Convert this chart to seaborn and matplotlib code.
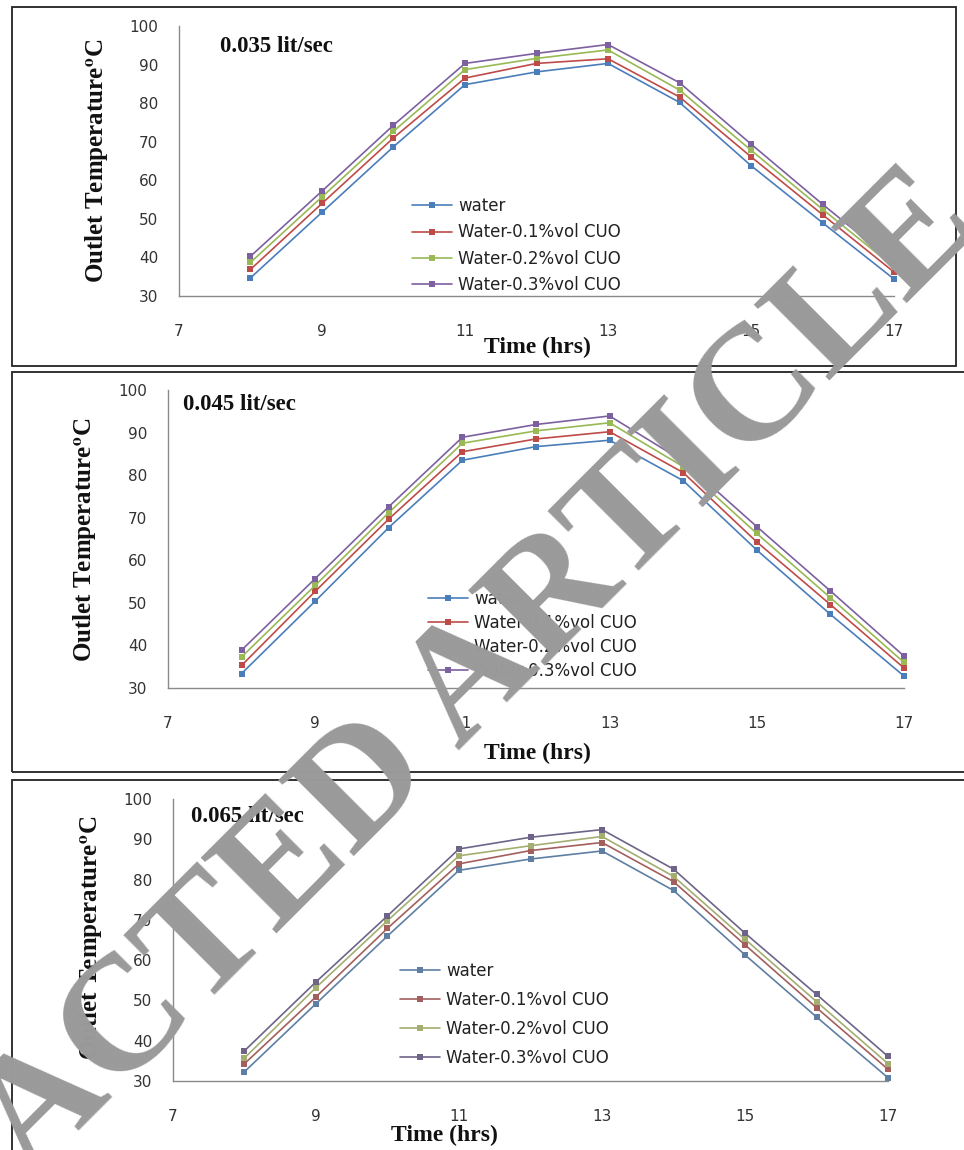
import matplotlib
matplotlib.use("Agg")
import matplotlib.pyplot as plt
import pandas as pd
import seaborn as sns
from matplotlib.patches import Rectangle

sns.set_theme(style="white")
plt.rcParams["font.family"] = ["DejaVu Sans"]
plt.rcParams["mathtext.fontset"] = "stix"

W, H = 964, 1150

hours = [8, 9, 10, 11, 12, 13, 14, 15, 16, 17]
series_names = ["water", "Water-0.1%vol CUO", "Water-0.2%vol CUO", "Water-0.3%vol CUO"]
flow_labels = ["0.035 lit/sec", "0.045 lit/sec", "0.065 lit/sec"]
x_ticks = [7, 9, 11, 13, 15, 17]
y_ticks = [30, 40, 50, 60, 70, 80, 90, 100]

# 0.035 lit/sec
t035_water = [34.7, 51.7, 68.7, 84.8, 88.1, 90.3, 80.2, 63.8, 49.0, 34.4]
t035_01 = [36.9, 54.0, 71.0, 86.5, 90.3, 91.5, 81.6, 66.1, 51.1, 36.2]
t035_02 = [38.7, 55.7, 72.7, 88.7, 91.6, 93.8, 83.4, 67.8, 52.5, 37.5]
t035_03 = [40.3, 57.2, 74.3, 90.3, 92.9, 95.2, 85.3, 69.4, 53.8, 38.7]

# 0.045 lit/sec
t045_water = [33.4, 50.4, 67.7, 83.5, 86.7, 88.2, 78.7, 62.4, 47.3, 32.8]
t045_01 = [35.3, 52.7, 69.7, 85.5, 88.5, 90.2, 80.6, 64.3, 49.6, 34.7]
t045_02 = [37.3, 54.1, 71.2, 87.5, 90.4, 92.3, 82.0, 66.3, 51.2, 36.0]
t045_03 = [38.9, 55.7, 72.6, 88.9, 91.9, 93.9, 83.3, 67.9, 52.8, 37.5]

# 0.065 lit/sec
t065_water = [32.3, 49.2, 66.0, 82.3, 85.1, 87.1, 77.3, 61.3, 45.9, 30.8]
t065_01 = [34.3, 50.9, 67.9, 83.9, 87.2, 89.2, 79.5, 63.8, 48.2, 32.9]
t065_02 = [35.7, 53.2, 69.8, 85.9, 88.4, 90.7, 80.8, 65.2, 49.7, 34.3]
t065_03 = [37.5, 54.6, 71.0, 87.6, 90.5, 92.4, 82.6, 66.7, 51.5, 36.1]

excel_colors = ["#4A7EBB", "#BE4B48", "#98B954", "#7D60A0"]
muted_colors = ["#5E7FA3", "#A25F5D", "#A3AE70", "#6D6488"]


def fx(x):
    return x / W


def fy(y):
    return 1 - y / H


fig = plt.figure(figsize=(W / 100, H / 100), dpi=100)

# panel frames (pixels: x0, y0, x1, y1)
for x0, y0, x1, y1 in [(12, 7, 956, 366), (12, 372, 975, 772), (12, 780, 975, 1165)]:
    fig.patches.append(Rectangle((fx(x0), fy(y1)), fx(x1 - x0), (y1 - y0) / H,
                                 transform=fig.transFigure, fill=False,
                                 edgecolor="#222222", linewidth=1.3, zorder=0))

panels = [
    dict(data=[t035_water, t035_01, t035_02, t035_03], colors=excel_colors,
         ax=(179, 894, 26, 296), title=(220, 46), ylab=(97, 161), xlab=(537, 347),
         leg=(412, 197), legsp=0.50),
    dict(data=[t045_water, t045_01, t045_02, t045_03], colors=excel_colors,
         ax=(168, 904, 390, 688), title=(183, 405), ylab=(85, 540), xlab=(537, 753),
         leg=(428, 590), legsp=0.36),
    dict(data=[t065_water, t065_01, t065_02, t065_03], colors=muted_colors,
         ax=(173, 888, 799, 1081), title=(191, 817), ylab=(90, 938), xlab=(444, 1135),
         leg=(400, 962), legsp=0.66),
]

for i, p in enumerate(panels):
    x7, x17, y100, y30 = p["ax"]
    ax = fig.add_axes([fx(x7), fy(y30), (x17 - x7) / W, (y30 - y100) / H])
    ax.patch.set_alpha(0)
    for name, vals, c in zip(series_names, p["data"], p["colors"]):
        sns.lineplot(x=hours, y=vals, ax=ax, color=c, marker="s", markersize=4.5,
                     markeredgewidth=0, linewidth=1.2, label=name, clip_on=False)
    ax.set_xlim(7, 17)
    ax.set_ylim(30, 100)
    ax.set_xticks(x_ticks)
    ax.set_yticks(y_ticks)
    for s in ["top", "right"]:
        ax.spines[s].set_visible(False)
    for s in ["left", "bottom"]:
        ax.spines[s].set_color("#8a8a8a")
        ax.spines[s].set_linewidth(1.0)
    ax.tick_params(axis="both", direction="out", length=5, width=1, color="#8a8a8a",
                   labelsize=11, labelcolor="#333333")
    ax.tick_params(axis="x", pad=15)
    ax.tick_params(axis="y", pad=10)
    ax.set_xlabel("")
    ax.set_ylabel("")
    ax.legend(loc="upper left", bbox_to_anchor=(fx(p["leg"][0]), fy(p["leg"][1])),
              bbox_transform=fig.transFigure, frameon=False, borderpad=0,
              borderaxespad=0, fontsize=12, handlelength=2.4, handletextpad=0.35,
              labelspacing=p["legsp"], labelcolor="#222222")

    fig.text(fx(p["title"][0]), fy(p["title"][1]), flow_labels[i], ha="left", va="center",
             fontfamily="Liberation Serif", fontweight="bold", fontsize=16.5, color="#111111")
    fig.text(fx(p["ylab"][0]), fy(p["ylab"][1]), r"Outlet Temperature$^{\mathbf{o}}$C",
             rotation=90, ha="center", va="center", fontfamily="Liberation Serif",
             fontweight="bold", fontsize=18, color="#111111")
    fig.text(fx(p["xlab"][0]), fy(p["xlab"][1]), "Time (hrs)", ha="center", va="center",
             fontfamily="Liberation Serif", fontweight="bold", fontsize=17, color="#111111")

# retraction watermark
fig.text(fx(955), fy(200), "RETRACTED ARTICLE", rotation=45, rotation_mode="anchor",
         ha="right", va="center", fontfamily="Liberation Serif", fontweight="bold",
         fontsize=118, color="#9a9a9a", zorder=10)

fig.savefig("out.png", dpi=100)
